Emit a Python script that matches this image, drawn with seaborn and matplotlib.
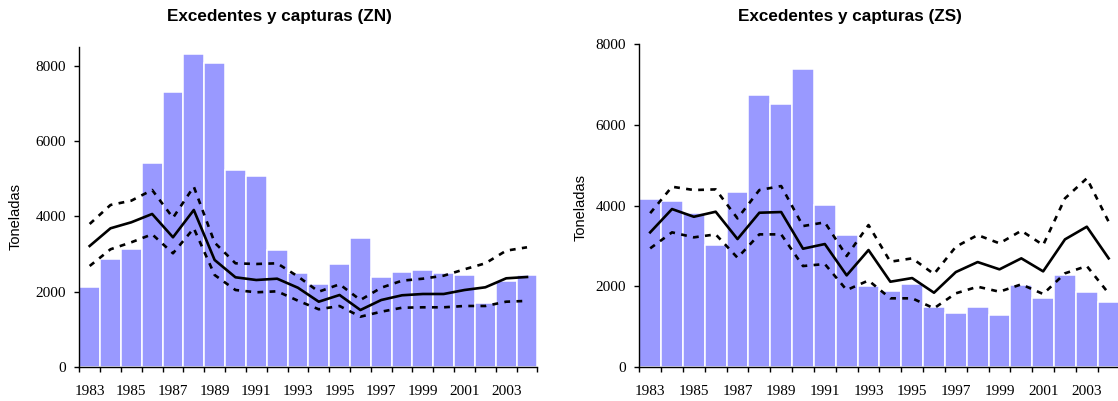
import matplotlib
matplotlib.use("Agg")
import matplotlib.pyplot as plt
import seaborn as sns
from matplotlib.ticker import FixedLocator, NullFormatter

# Years covered by both panels
years = list(range(1983, 2005))

# Zona Norte (ZN): catches (bars), surplus estimate (solid) and its bounds (dashed)
zn_capturas = [2120, 2857, 3131, 5410, 7315, 8318, 8086, 5240, 5073, 3096, 2488,
               2192, 2724, 3431, 2386, 2519, 2564, 2484, 2447, 1686, 2288, 2431]
zn_excedente = [3211, 3681, 3841, 4062, 3442, 4168, 2838, 2378, 2306, 2341, 2100,
                1729, 1907, 1508, 1774, 1900, 1934, 1934, 2040, 2112, 2351, 2386]
zn_superior = [3796, 4301, 4416, 4700, 3960, 4788, 3300, 2750, 2732, 2750, 2400,
               1995, 2192, 1774, 2101, 2288, 2341, 2421, 2591, 2750, 3086, 3176]
zn_inferior = [2679, 3123, 3309, 3522, 3016, 3681, 2439, 2040, 1979, 2005, 1756,
               1527, 1615, 1330, 1463, 1569, 1580, 1580, 1615, 1615, 1729, 1750]

# Zona Sur (ZS)
zs_capturas = [4170, 4111, 3805, 3019, 4326, 6733, 6517, 7386, 4012, 3267, 2012,
               1886, 2044, 1489, 1324, 1489, 1290, 2018, 1704, 2267, 1853, 1605]
zs_excedente = [3334, 3912, 3721, 3846, 3168, 3821, 3838, 2928, 3044, 2267, 2895,
                2109, 2200, 1836, 2349, 2597, 2416, 2689, 2366, 3160, 3474, 2689]
zs_superior = [3810, 4466, 4384, 4400, 3680, 4384, 4483, 3490, 3582, 2746, 3515,
               2605, 2689, 2300, 2977, 3267, 3061, 3374, 3019, 4178, 4674, 3597]
zs_inferior = [2937, 3334, 3210, 3284, 2704, 3284, 3284, 2498, 2548, 1903, 2140,
               1697, 1697, 1449, 1821, 1985, 1861, 2044, 1804, 2317, 2498, 1821]

titles = ["Excedentes y capturas (ZN)", "Excedentes y capturas (ZS)"]
y_label = "Toneladas"
y_ticks = [0, 2000, 4000, 6000, 8000]
x_labels = list(range(1983, 2004, 2))

BAR_COLOR = "#9999ff"
SERIF = "Liberation Serif"
SANS = "Liberation Sans"

fig = plt.figure(figsize=(11.18, 4.01), dpi=100)
ax_zn = fig.add_axes([0.0709, 0.0855, 0.4098, 0.798])
ax_zs = fig.add_axes([0.5718, 0.0855, 0.4296, 0.804])

panels = [
    (ax_zn, zn_capturas, zn_excedente, zn_superior, zn_inferior, 8510),
    (ax_zs, zs_capturas, zs_excedente, zs_superior, zs_inferior, 8000),
]

for ax, cap, exc, sup, inf, ytop in panels:
    sns.barplot(x=years, y=cap, native_scale=True, width=1.0, color=BAR_COLOR,
                saturation=1, edgecolor="white", linewidth=1.1, ax=ax)
    sns.lineplot(x=years, y=exc, color="black", linewidth=1.9, ax=ax)
    for band in (sup, inf):
        sns.lineplot(x=years, y=band, color="black", linewidth=1.9,
                     linestyle=(0, (2.2, 2.4)), ax=ax)

    ax.set_xlim(1982.5, 2004.5)
    ax.set_ylim(0, ytop)
    for side in ("top", "right"):
        ax.spines[side].set_visible(False)
    for side in ("left", "bottom"):
        ax.spines[side].set_color("black")
        ax.spines[side].set_linewidth(1.0)

    ax.yaxis.set_major_locator(FixedLocator(y_ticks))
    ax.set_yticklabels([str(v) for v in y_ticks], fontfamily=SERIF, fontsize=11)
    ax.tick_params(axis="y", length=3.5, width=1.0, pad=6, colors="black")

    ax.xaxis.set_major_locator(FixedLocator(x_labels))
    ax.set_xticklabels([str(v) for v in x_labels], fontfamily=SERIF, fontsize=11)
    ax.xaxis.set_minor_locator(FixedLocator([y + 0.5 for y in range(1982, 2005)]))
    ax.xaxis.set_minor_formatter(NullFormatter())
    ax.tick_params(axis="x", which="major", length=0, pad=13.5, colors="black")
    ax.tick_params(axis="x", which="minor", length=3.8, width=1.0, color="black")

    ax.set_xlabel("")
    ax.set_ylabel("")
    ax.grid(False)
    ax.set_facecolor("white")

fig.text(279.5 / 1118, 1 - 17 / 401, titles[0], ha="center", va="center",
         fontfamily=SANS, fontweight="bold", fontsize=12.3)
fig.text(850 / 1118, 1 - 17 / 401, titles[1], ha="center", va="center",
         fontfamily=SANS, fontweight="bold", fontsize=12.3)
fig.text(16 / 1118, 1 - 216 / 401, y_label, rotation=90, ha="center", va="center",
         fontfamily=SANS, fontsize=10.5)
fig.text(581 / 1118, 1 - 207 / 401, y_label, rotation=90, ha="center", va="center",
         fontfamily=SANS, fontsize=10.5)

fig.savefig("out.png", dpi=100, facecolor="white")
